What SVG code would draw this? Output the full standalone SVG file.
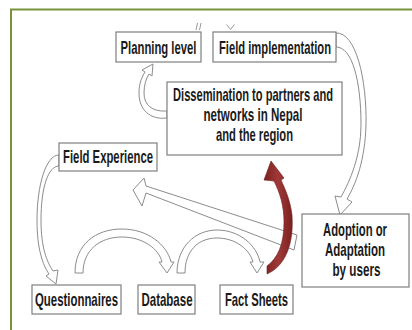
<svg xmlns="http://www.w3.org/2000/svg" width="412" height="330" viewBox="0 0 412 330">
  <style>
    .box { fill: #ffffff; stroke: #7f7f7f; stroke-width: 1.2; }
    .lbl { font-family: "Liberation Sans Narrow", "Arial Narrow", "Liberation Sans", Arial, sans-serif; font-weight: bold; font-size: 18px; fill: #1a1a1a; text-anchor: middle; }
    .hollow { fill: #ffffff; stroke: #8c8c8c; stroke-width: 1; stroke-linejoin: round; }
    .stub { fill: none; stroke: #9a9a9a; stroke-width: 1; }
    .frame { stroke: #77933c; stroke-width: 2; fill: none; }
  </style>
  <defs>
    <linearGradient id="redShade" x1="0" y1="0" x2="1" y2="0">
      <stop offset="0" stop-color="#7a2020"/>
      <stop offset="0.5" stop-color="#a03a38"/>
      <stop offset="1" stop-color="#7a2020"/>
    </linearGradient>
  </defs>

  <rect width="412" height="330" fill="#ffffff"/>
  <!-- open frame: top and left edges -->
  <path class="frame" d="M11 330 V9.5 H412"/>

  <g id="connectors">
    <!-- stubs of arrows entering from above -->
    <path class="stub" d="M196 30 L197.5 23 M199.5 30 L201 23"/>
    <path class="stub" d="M226.5 24.5 L230.5 29.5 L234.5 24.5"/>

    <!-- Dissemination -> Planning level -->
    <path class="hollow" d="M167 118 C150 120 139 110 139 93 C139 83 142 77 145 72 L142 70 L153 64 L152 76 L149 74 C146 79 144 85 144 93 C144 105 152 112 167 111 Z"/>

    <!-- Field implementation -> Adoption -->
    <path class="hollow" d="M336 33 C356 32 367 80 366 125 C365 160 356 184 347 199 L352 202 L340 215 L335 196 L341 197 C350 181 361 156 361 125 C361 80 352 47 336 47 Z"/>

    <!-- Field Experience -> Questionnaires -->
    <path class="hollow" d="M59 155 C46 155 37 185 37 220 C37 250 43 265 49 274 L46 276 L56 284 L58 270 L53 271 C47 262 41 248 41 220 C41 188 48 166 59 166 Z"/>

    <!-- Questionnaires -> Database -->
    <path class="hollow" d="M75 273 C75 245 95 229 122 229 C148 229 167 245 171 262 L174 262 L167 273 L159 262 L162 262 C159 249 143 237 122 237 C100 237 83 250 83 273 Z"/>

    <!-- Database -> Fact Sheets -->
    <path class="hollow" d="M177 273 C177 247 195 230 217 230 C240 230 257 246 260 262 L264 262 L257 273 L250 262 L253 262 C250 250 236 238 217 238 C198 238 185 251 185 273 Z"/>

    <!-- Adoption -> Field Experience (straight block arrow) -->
    <path class="hollow" d="M133 190 L144 178 L146 186 L297 235 L294 250 L146 193 L142 206 Z"/>

    <!-- Fact Sheets -> Dissemination (red curved arrow) -->
    <path fill="url(#redShade)" stroke="#6e1c1c" stroke-width="0.6" d="M267 274 C285 266 294 245 292 215 C290 199 285 189 281 180 L284 178 L271 161 L264 180 L274 181 C280 193 284 206 284 222 C284 244 278 258 267 266 Z"/>
  </g>

  <g id="node-planning">
    <rect class="box" x="116" y="32" width="85" height="30"/>
    <text class="lbl" transform="translate(158.5 53.5) scale(0.765 1)" textLength="99.3" lengthAdjust="spacingAndGlyphs">Planning level</text>
  </g>
  <g id="node-field-implementation">
    <rect class="box" x="213" y="32" width="123" height="30"/>
    <text class="lbl" transform="translate(275 53.5) scale(0.765 1)" textLength="146.4" lengthAdjust="spacingAndGlyphs">Field implementation</text>
  </g>
  <g id="node-dissemination">
    <rect class="box" x="167" y="82" width="175" height="73"/>
    <text class="lbl" transform="translate(253 100.5) scale(0.765 1)" textLength="209.1" lengthAdjust="spacingAndGlyphs">Dissemination to partners and</text>
    <text class="lbl" transform="translate(253 120.5) scale(0.765 1)" textLength="129.4" lengthAdjust="spacingAndGlyphs">networks in Nepal</text>
    <text class="lbl" transform="translate(254.5 140.5) scale(0.765 1)" textLength="100.7" lengthAdjust="spacingAndGlyphs">and the region</text>
  </g>
  <g id="node-field-experience">
    <rect class="box" x="59" y="143" width="98" height="28"/>
    <text class="lbl" transform="translate(108 163) scale(0.765 1)" textLength="117.6" lengthAdjust="spacingAndGlyphs">Field Experience</text>
  </g>
  <g id="node-adoption">
    <rect class="box" x="302" y="214" width="107" height="73"/>
    <text class="lbl" transform="translate(355 235.5) scale(0.765 1)" textLength="83.6" lengthAdjust="spacingAndGlyphs">Adoption or</text>
    <text class="lbl" transform="translate(355 255.5) scale(0.765 1)" textLength="78.5" lengthAdjust="spacingAndGlyphs">Adaptation</text>
    <text class="lbl" transform="translate(356.5 275.5) scale(0.765 1)" textLength="62.8" lengthAdjust="spacingAndGlyphs">by users</text>
  </g>
  <g id="node-questionnaires">
    <rect class="box" x="32" y="285" width="89" height="29"/>
    <text class="lbl" transform="translate(76.5 305.5) scale(0.765 1)" textLength="108.5" lengthAdjust="spacingAndGlyphs">Questionnaires</text>
  </g>
  <g id="node-database">
    <rect class="box" x="138" y="285" width="57" height="29"/>
    <text class="lbl" transform="translate(167 305.5) scale(0.765 1)" textLength="66.7" lengthAdjust="spacingAndGlyphs">Database</text>
  </g>
  <g id="node-fact-sheets">
    <rect class="box" x="220" y="285" width="73" height="29"/>
    <text class="lbl" transform="translate(256.5 305.5) scale(0.765 1)" textLength="82.4" lengthAdjust="spacingAndGlyphs">Fact Sheets</text>
  </g>
</svg>
